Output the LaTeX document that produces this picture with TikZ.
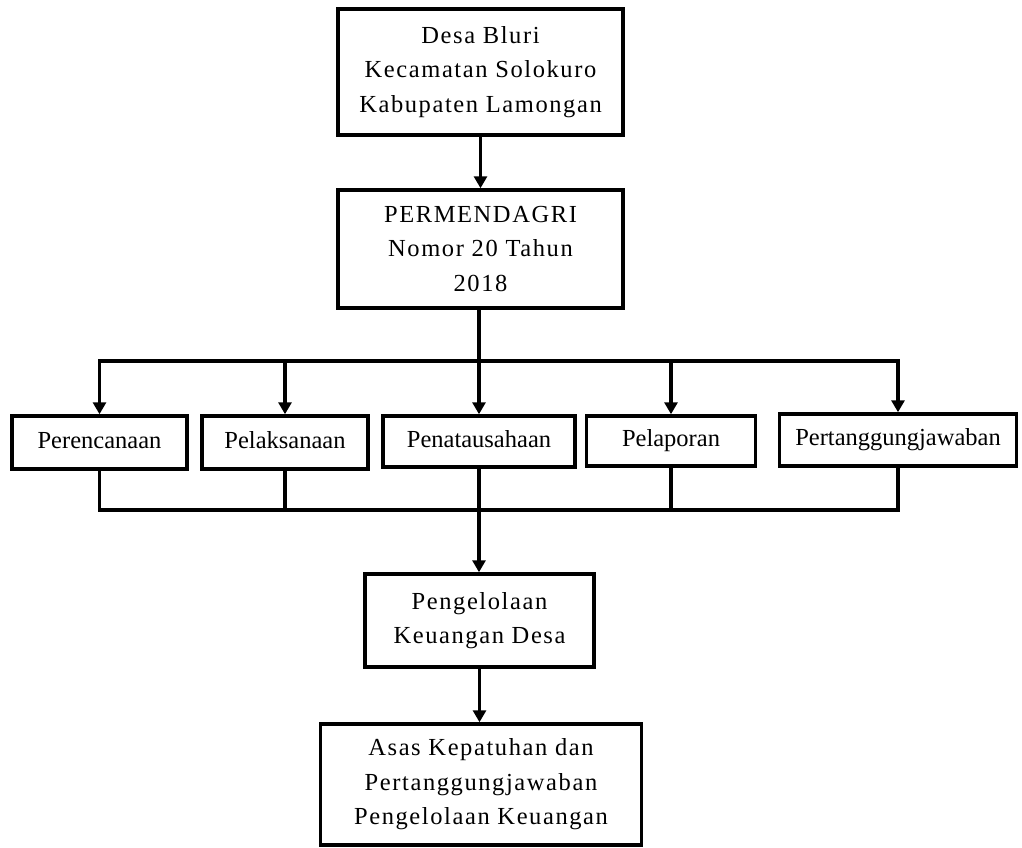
\documentclass[tikz,border=0pt]{standalone}
\usepackage{fontspec}
\setmainfont{Liberation Serif}
\newfontfamily\spacedserif[LetterSpace=6.5]{Liberation Serif}
\usetikzlibrary{arrows.meta}
\begin{document}
\begin{tikzpicture}[x=1pt,y=-1pt,
  box/.style={draw,line width=3.5pt,align=center,inner sep=0pt,
    font=\fontsize{24.5}{34}\selectfont},
  multi/.style={box,font=\spacedserif\fontsize{24.5}{34.5}\selectfont},
  single/.style={box,text height=17pt,text depth=6pt},
  conn/.style={line width=3.5pt},
  arr/.style={line width=3.5pt,-{Triangle[width=13pt,length=12pt]}}]
\useasboundingbox (0,0) rectangle (1022,848);
\node[multi,minimum width=285pt,minimum height=126pt] (desa) at (480.5,72) {Desa Bluri\\Kecamatan Solokuro\\Kabupaten Lamongan};
\node[multi,minimum width=285pt,minimum height=118pt] (perm) at (480.5,249) {PERMENDAGRI\\Nomor 20 Tahun\\2018};
\node[single,minimum width=175pt,minimum height=53pt] (p1) at (99.5,442.5) {Perencanaan};
\node[single,minimum width=166pt,minimum height=53pt] (p2) at (285,442.5) {Pelaksanaan};
\node[single,minimum width=192pt,minimum height=51pt] (p3) at (479,441.5) {Penatausahaan};
\node[single,minimum width=169pt,minimum height=50pt] (p4) at (671,441) {Pelaporan};
\node[single,minimum width=237pt,minimum height=52pt] (p5) at (898,440) {Pertanggungjawaban};
\node[multi,minimum width=229pt,minimum height=93pt] (peng) at (479.5,620.5) {Pengelolaan\\Keuangan Desa};
\node[multi,minimum width=321pt,minimum height=121pt] (asas) at (481,784.5) {Asas Kepatuhan dan\\Pertanggungjawaban\\Pengelolaan Keuangan};
\coordinate (top) at (479,361);
\coordinate (bot) at (479,510);
\draw[arr] (desa) -- (perm);
\draw[conn] (perm.south -| top) -- (top);
\draw[conn,line cap=rect] (p1 |- top) -- (p5 |- top);
\foreach \n in {p1,p2,p3,p4,p5} \draw[arr] (\n |- top) -- (\n.north);
\foreach \n in {p1,p2,p3,p4,p5} \draw[conn] (\n.south) -- (\n |- bot);
\draw[conn,line cap=rect] (p1 |- bot) -- (p5 |- bot);
\draw[arr] (bot) -- (peng.north -| bot);
\draw[arr] (peng.south) -- (asas.north -| peng.south);
\end{tikzpicture}
\end{document}
